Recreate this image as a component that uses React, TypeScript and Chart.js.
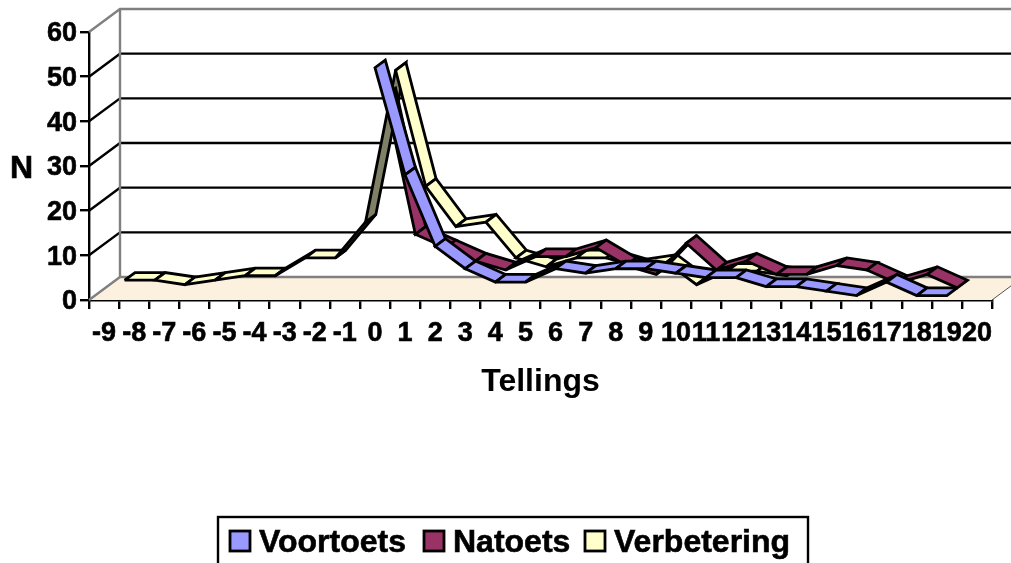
import React, { useEffect, useRef } from "react";
import { Chart, registerables } from "chart.js";

Chart.register(...registerables);

const categories = ["-9","-8","-7","-6","-5","-4","-3","-2","-1","0","1","2","3","4","5","6","7","8","9","10","11","12","13","14","15","16","17","18","19","20"];
const voortoets = [null,null,null,null,null,null,null,null,null,52,28,12,7,4,4,7,6,7,7,6,5,5,3,3,2,1,4,1,1,null];
const natoets = [null,null,null,null,null,null,null,null,null,44,13,10,7,5,8,8,10,6,4,11,5,7,4,4,6,5,2,4,1,null];
const verbetering = [1,1,0,1,2,2,6,6,14,48,22,13,14,6,4,6,6,4,5,0,3,3,2,null,null,null,null,null,null,null];
const seriesNames = ["Voortoets","Natoets","Verbetering"];
const faceColors = ["#9999FF","#993366","#FFFFCC"];
const shadeColors = ["#4D4D80","#4D1A33","#808066"];
const yTicks = [0,10,20,30,40,50,60];

const FONT = '"Liberation Sans", Arial, sans-serif';
const DEPTH_X = 31;
const DEPTH_Y = -23;

const scenePlugin = {
  id: "scene",
  beforeDatasetsDraw(chart: any) {
    const { ctx, scales } = chart;
    const x = scales.x, y = scales.y;
    const l = x.left;
    const r = x.right;
    const y0 = y.getPixelForValue(0);
    ctx.save();
    ctx.lineCap = "butt";
    // floor
    ctx.fillStyle = "#FBF1DE";
    ctx.beginPath();
    ctx.moveTo(l, y0);
    ctx.lineTo(l + DEPTH_X, y0 + DEPTH_Y);
    ctx.lineTo(r + DEPTH_X, y0 + DEPTH_Y);
    ctx.lineTo(r, y0);
    ctx.closePath();
    ctx.fill();
    ctx.strokeStyle = "#555";
    ctx.lineWidth = 1;
    ctx.beginPath();
    ctx.moveTo(r, y0);
    ctx.lineTo(r + DEPTH_X, y0 + DEPTH_Y);
    ctx.stroke();
    // grid on wall
    ctx.lineWidth = 2.4;
    yTicks.forEach((v) => {
      const p = y.getPixelForValue(v);
      const edge = v === 0 || v === 60;
      ctx.strokeStyle = edge ? "#808080" : "#000";
      ctx.beginPath();
      ctx.moveTo(l, p);
      ctx.lineTo(l + DEPTH_X, p + DEPTH_Y);
      ctx.lineTo(r + DEPTH_X, p + DEPTH_Y);
      ctx.stroke();
    });
    ctx.strokeStyle = "#808080";
    ctx.beginPath();
    ctx.moveTo(l + DEPTH_X, y.getPixelForValue(0) + DEPTH_Y);
    ctx.lineTo(l + DEPTH_X, y.getPixelForValue(60) + DEPTH_Y);
    ctx.stroke();
    // ribbons, back to front
    ctx.lineJoin = "miter";
    ctx.miterLimit = 3;
    ctx.lineWidth = 2.8;
    ctx.strokeStyle = "#000";
    const n = chart.data.datasets.length;
    for (let s = n - 1; s >= 0; s--) {
      const data = chart.data.datasets[s].data as (number | null)[];
      const dx = DEPTH_X / n, dy = DEPTH_Y / n;
      const ox = s * dx, oy = s * dy;
      for (let i = 0; i < data.length - 1; i++) {
        const a = data[i], b = data[i + 1];
        if (a == null || b == null) continue;
        const ax = x.getPixelForValue(i) + ox, ay = y.getPixelForValue(a) + oy;
        const bx = x.getPixelForValue(i + 1) + ox, by = y.getPixelForValue(b) + oy;
        const cross = (bx - ax) * dy - (by - ay) * dx;
        ctx.fillStyle = cross <= 0 ? faceColors[s] : shadeColors[s];
        ctx.beginPath();
        ctx.moveTo(ax, ay);
        ctx.lineTo(bx, by);
        ctx.lineTo(bx + dx, by + dy);
        ctx.lineTo(ax + dx, ay + dy);
        ctx.closePath();
        ctx.fill();
        ctx.stroke();
      }
    }
    ctx.restore();
  },
  afterDraw(chart: any) {
    const { ctx } = chart;
    ctx.save();
    ctx.fillStyle = "#000";
    ctx.strokeStyle = "#000";
    ctx.font = `bold 32px ${FONT}`;
    ctx.textBaseline = "middle";
    ctx.textAlign = "left";
    ctx.lineWidth = 0.6;
    ctx.fillText("N", 10, 169);
    ctx.strokeText("N", 10, 169);
    // legend
    ctx.lineWidth = 2.4;
    ctx.strokeRect(218, 517, 590, 60);
    const swX = [230, 424, 585];
    const txX = [259, 453, 614];
    seriesNames.forEach((name, i) => {
      ctx.fillStyle = faceColors[i];
      ctx.lineWidth = 2.8;
      ctx.fillRect(swX[i], 531, 20, 20);
      ctx.strokeRect(swX[i], 531, 20, 20);
      ctx.fillStyle = "#000";
      ctx.lineWidth = 0.6;
      ctx.fillText(name, txX[i], 543);
      ctx.strokeText(name, txX[i], 543);
    });
    ctx.restore();
  },
};

export default function App() {
  const ref = useRef<HTMLCanvasElement>(null);
  useEffect(() => {
    const series = [voortoets, natoets, verbetering];
    const chart = new Chart(ref.current as HTMLCanvasElement, {
      type: "line",
      data: {
        labels: categories,
        datasets: series.map((d, i) => ({
          label: seriesNames[i],
          data: d,
          showLine: false,
          pointRadius: 0,
          backgroundColor: faceColors[i],
          borderColor: "#000",
        })),
      },
      options: {
        animation: false,
        responsive: false,
        layout: { padding: { top: 32, right: 19, left: 0, bottom: 0 } },
        plugins: { legend: { display: false }, tooltip: { enabled: false } },
        scales: {
          x: {
            type: "category",
            offset: true,
            afterFit(s: any) { s.height = 263; },
            grid: { offset: true, drawOnChartArea: false, drawTicks: true, tickLength: 9, color: "#000", lineWidth: 2.4 },
            border: { color: "#000", width: 2.4 },
            ticks: { autoSkip: false, maxRotation: 0, minRotation: 0, color: "#000", padding: 8, textStrokeColor: "#000", textStrokeWidth: 0.6, font: { family: FONT, size: 27, weight: "bold" } },
            title: { display: true, text: "Tellings", color: "#000", font: { family: FONT, size: 32, weight: "bold" }, padding: { top: 0, bottom: 162 } },
          },
          y: {
            min: 0,
            max: 60,
            afterFit(s: any) { s.width = 89; },
            afterBuildTicks(s: any) { s.ticks = yTicks.map((value) => ({ value })); },
            grid: { drawOnChartArea: false, drawTicks: true, tickLength: 9, color: "#000", lineWidth: 2.4 },
            border: { color: "#000", width: 2.4 },
            ticks: { color: "#000", padding: 3, labelOffset: 2, textStrokeColor: "#000", textStrokeWidth: 0.6, font: { family: FONT, size: 27, weight: "bold" } },
          },
        },
      },
      plugins: [scenePlugin],
    } as any);
    return () => chart.destroy();
  }, []);
  return (
    <div style={{ position: "fixed", left: 0, top: 0, width: 1011, height: 563, overflow: "hidden", background: "#fff" }}>
      <canvas ref={ref} width={1011} height={563} style={{ display: "block" }} />
    </div>
  );
}
